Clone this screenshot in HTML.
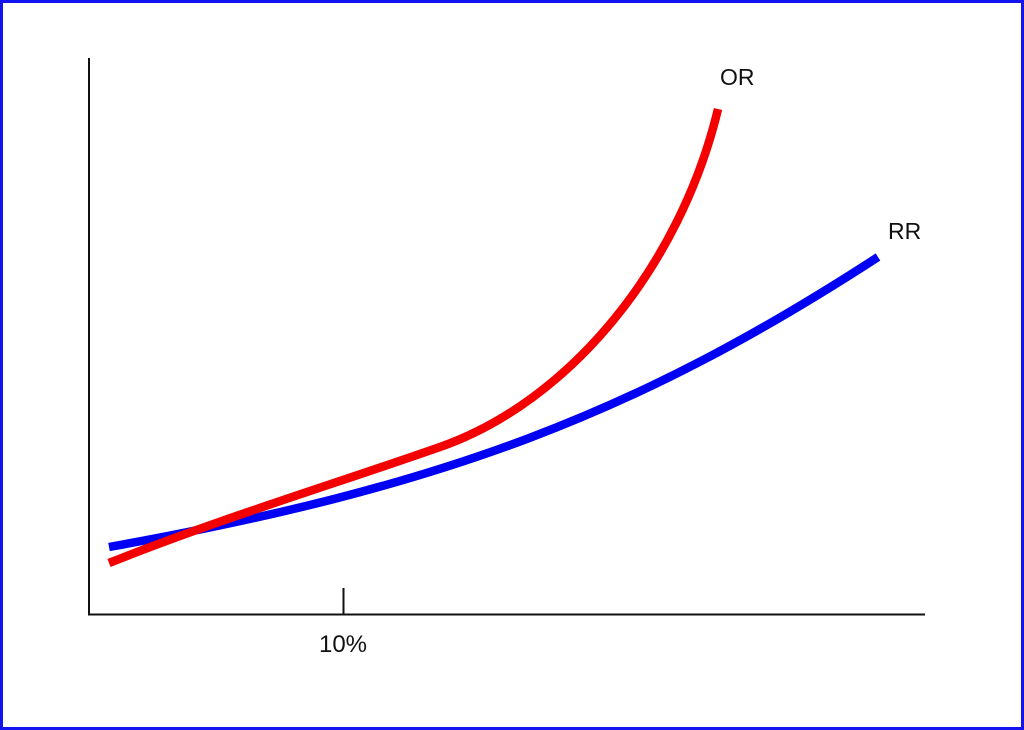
<!DOCTYPE html>
<html>
<head>
<meta charset="utf-8">
<style>
html,body{margin:0;padding:0;background:#fff;}
body{width:1024px;height:730px;overflow:hidden;}
svg{display:block;}
text{font-family:"Liberation Sans",sans-serif;fill:#111;}
</style>
</head>
<body>
<svg width="1024" height="730" viewBox="0 0 1024 730" xmlns="http://www.w3.org/2000/svg">
  <rect x="0" y="0" width="1024" height="730" fill="#fff"/>
  <rect x="1.5" y="1.5" width="1021" height="727" fill="none" stroke="#1414f0" stroke-width="3"/>
  <!-- axes -->
  <line x1="89" y1="58" x2="89" y2="615" stroke="#111" stroke-width="2"/>
  <line x1="88" y1="614.5" x2="925" y2="614.5" stroke="#111" stroke-width="2"/>
  <line x1="343.5" y1="588" x2="343.5" y2="614" stroke="#111" stroke-width="2"/>
  <!-- RR (blue) -->
  <path d="M109,547 C443.9,486.7 636.1,414.2 878,257"
        fill="none" stroke="#0000f5" stroke-width="8.5" stroke-linecap="butt"/>
  <!-- OR (red) -->
  <path d="M109,563 C219,519 330,485.5 440,447 C569,402 680.2,266.8 718,109"
        fill="none" stroke="#f50000" stroke-width="8.5" stroke-linecap="butt"/>
  <!-- labels -->
  <text x="720" y="85" font-size="23">OR</text>
  <text x="888" y="239" font-size="23">RR</text>
  <text x="343" y="652" font-size="24" text-anchor="middle">10%</text>
</svg>
</body>
</html>
